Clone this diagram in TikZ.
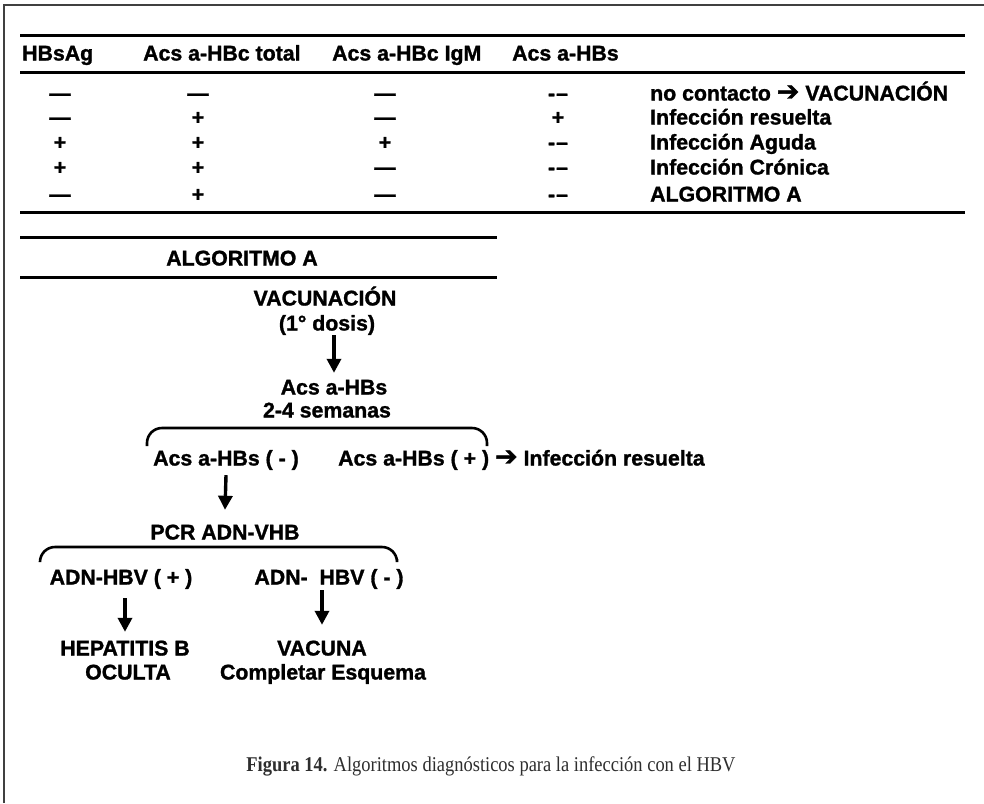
\documentclass[tikz,border=0pt]{standalone}
\usepackage{fontspec}
\setmainfont{Liberation Sans}[BoldFont={Liberation Sans Bold}, BoldFeatures={FakeBold=1.3}]
\newfontfamily\capfont{Liberation Serif}[FakeStretch=0.88, BoldFont={Liberation Serif Bold}]
\newfontfamily\symfont{DejaVu Sans}[BoldFont={DejaVu Sans Bold}, BoldFeatures={FakeBold=1.3}]
\usetikzlibrary{arrows.meta}
\newcommand{\harrow}{{\symfont\bfseries\fontsize{27}{24}\selectfont ➔}}
\newcommand{\ddash}{-\kern1pt–}
\tikzset{
  txt/.style={font=\fontsize{21.3}{24}\selectfont\bfseries, inner sep=0pt, text height=15pt, text depth=0pt},
  cell/.style={txt, anchor=center},
  lcell/.style={txt, anchor=west},
  rulebold/.style={line width=3pt},
  framel/.style={line width=2pt, black!75},
  downarrow/.style={line width=3.4pt, -{Triangle[width=14pt,length=14pt]}},
  bracket/.style={line width=2.6pt, rounded corners=15pt},
  captxt/.style={font=\capfont\fontsize{21}{24}\selectfont, text=black!82, inner sep=0pt, text height=14pt, text depth=0pt},
}
\begin{document}
\begin{tikzpicture}[x=1pt,y=-1pt]
\useasboundingbox (0,0) rectangle (984,803);
\fill[white] (0,0) rectangle (984,803);
% frame
\draw[framel] (4,803) -- (4,5) -- (984,5);
% table rules
\draw[rulebold] (20,35) -- (965,35);
\draw[rulebold] (20,72) -- (965,72);
\draw[rulebold] (20,212) -- (965,212);
% headers
\node[lcell] (h1) at (22,53) {HBsAg};
\node[lcell] (h2) at (143,53) {Acs a-HBc total};
\node[lcell] (h3) at (332,53) {Acs a-HBc IgM};
\node[lcell] (h4) at (512,53) {Acs a-HBs};
% row 1
\node[cell] (r1c1) at (60,93) {—};
\node[cell] (r1c2) at (198,93) {—};
\node[cell] (r1c3) at (385,93) {—};
\node[cell] (r1c4) at (558,93) {\ddash};
\node[lcell] (r1c5) at (650,93) {no contacto \harrow{} VACUNACIÓN};
% row 2
\node[cell] (r2c1) at (60,117) {—};
\node[cell] (r2c2) at (198,117) {+};
\node[cell] (r2c3) at (385,117) {—};
\node[cell] (r2c4) at (558,117) {+};
\node[lcell] (r2c5) at (650,117) {Infección resuelta};
% row 3
\node[cell] (r3c1) at (60,142) {+};
\node[cell] (r3c2) at (198,142) {+};
\node[cell] (r3c3) at (385,142) {+};
\node[cell] (r3c4) at (558,142) {\ddash};
\node[lcell] (r3c5) at (650,142) {Infección Aguda};
% row 4
\node[cell] (r4c1) at (60,167) {+};
\node[cell] (r4c2) at (198,167) {+};
\node[cell] (r4c3) at (385,167) {—};
\node[cell] (r4c4) at (558,167) {\ddash};
\node[lcell] (r4c5) at (650,167) {Infección Crónica};
% row 5
\node[cell] (r5c1) at (60,194) {—};
\node[cell] (r5c2) at (198,194) {+};
\node[cell] (r5c3) at (385,194) {—};
\node[cell] (r5c4) at (558,194) {\ddash};
\node[lcell] (r5c5) at (650,194) {ALGORITMO A};
% algoritmo A
\draw[rulebold] (20,237) -- (497,237);
\draw[rulebold] (20,277) -- (497,277);
\node[cell] (alg) at (242,258) {ALGORITMO A};
\node[cell] (vac) at (325,298) {VACUNACIÓN};
\node[cell] (dosis) at (327,323) {(1° dosis)};
\node[cell] (acs) at (334,387) {Acs a-HBs};
\node[cell] (sem) at (327,410) {2-4 semanas};
\draw[downarrow] ([yshift=-4.5pt]dosis.south -| acs.north) -- ([yshift=6.5pt]acs.north);
\draw[bracket] (147,446) -- (147,428) -- (487,428) -- (487,446);
\node[cell] (neg) at (226,458) {Acs a-HBs ( - )};
\node[lcell] (pos) at (338,458) {Acs a-HBs ( + ) \harrow{} Infección resuelta};
\node[cell] (pcr) at (225,532) {PCR ADN-VHB};
\draw[downarrow] ([yshift=-9.5pt]neg.south) -- ([yshift=14.5pt]pcr.north);
\draw[bracket] (40,561) -- (40,547) -- (397,547) -- (397,559);
\node[cell] (adnp) at (121,577) {ADN-HBV ( + )};
\node[cell] (adnm) at (329,577) {ADN-~~HBV ( - )};
\node[cell] (hep) at (125,648) {HEPATITIS B};
\node[cell] (ocu) at (128,672) {OCULTA};
\node[cell] (vcn) at (322,648) {VACUNA};
\node[cell] (comp) at (323,672) {Completar Esquema};
\draw[downarrow] ([yshift=-13.5pt]adnp.south -| hep.north) -- ([yshift=8.5pt]hep.north);
\draw[downarrow] ([yshift=-5.5pt]adnm.south -| vcn.north) -- ([yshift=15.5pt]vcn.north);
% caption
\node[captxt] (cap) at (491,764) {\textbf{Figura 14.} Algoritmos diagnósticos para la infección con el HBV};
\end{tikzpicture}
\end{document}
